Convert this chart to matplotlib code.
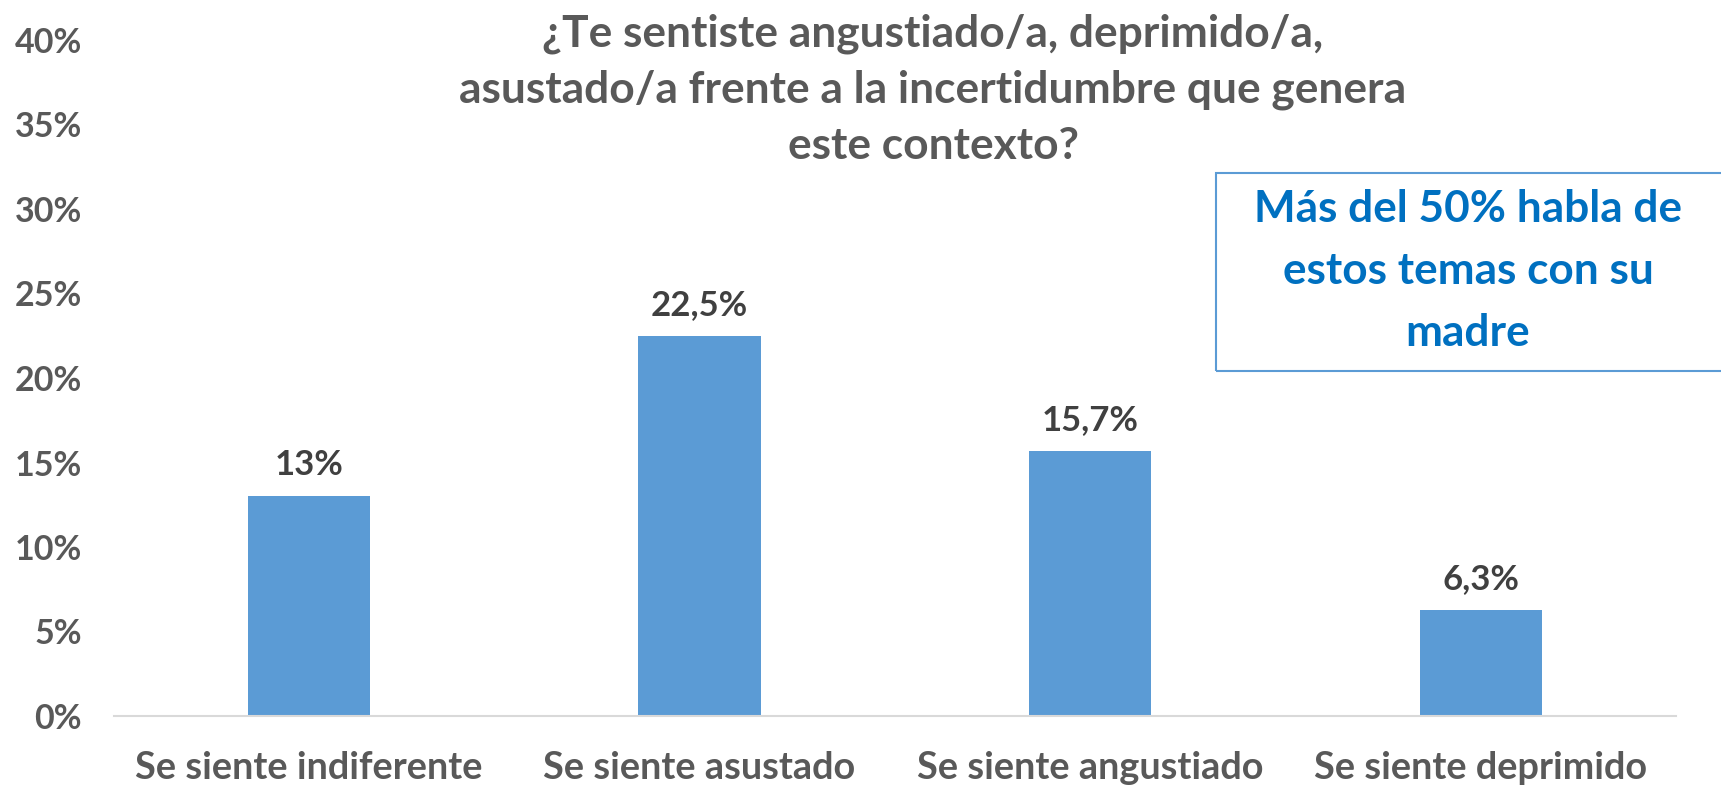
import matplotlib
matplotlib.use("Agg")
import matplotlib.pyplot as plt
from matplotlib.patches import Rectangle
import numpy as np

categories = ["Se siente indiferente", "Se siente asustado", "Se siente angustiado", "Se siente deprimido"]
values = [13.0, 22.5, 15.7, 6.3]
value_labels = ["13%", "22,5%", "15,7%", "6,3%"]
yticks = [0, 5, 10, 15, 20, 25, 30, 35, 40]
ytick_labels = ["0%", "5%", "10%", "15%", "20%", "25%", "30%", "35%", "40%"]
title = "¿Te sentiste angustiado/a, deprimido/a,\nasustado/a frente a la incertidumbre que genera\neste contexto?"
note = "Más del 50% habla de\nestos temas con su\nmadre"

FONT = ["Lato", "DejaVu Sans"]
plt.rcParams["font.family"] = FONT
plt.rcParams["font.weight"] = "bold"

W, H = 1721, 786
fig = plt.figure(figsize=(W / 100, H / 100), dpi=100)
ax = fig.add_axes([113.6 / W, 1 - 716 / H, (1676 - 113.6) / W, (716 - 40) / H])

x = np.arange(len(categories))
bars = ax.bar(x, values, width=0.313, color="#5B9BD5", zorder=2)
ax.set_xlim(-0.5, len(categories) - 0.5)
ax.set_ylim(0, 40)

for rect, lab in zip(bars, value_labels):
    ax.annotate(lab, (rect.get_x() + rect.get_width() / 2, rect.get_height()),
                xytext=(0, 15), textcoords="offset points", ha="center", va="baseline",
                fontsize=25, fontweight="bold", color="#404040")

ax.set_yticks(yticks)
ax.set_yticklabels(ytick_labels)
ax.set_xticks(x)
ax.set_xticklabels(categories)
ax.tick_params(axis="y", length=0, pad=23, labelsize=24.5, labelcolor="#595959")
ax.tick_params(axis="x", length=0, pad=25.5, labelsize=27.3, labelcolor="#595959")
for lab in ax.get_xticklabels() + ax.get_yticklabels():
    lab.set_fontweight("bold")

for s in ["top", "right", "left"]:
    ax.spines[s].set_visible(False)
ax.spines["bottom"].set_color("#D9D9D9")
ax.spines["bottom"].set_linewidth(1.5)

fig.text(933 / W, 1 - 90 / H, title, ha="center", va="center", fontsize=31.9,
         fontweight="bold", color="#595959", linespacing=1.47)

fig.patches.append(Rectangle((1216 / W, 1 - 371 / H), 0.35, (371 - 173) / H,
                             transform=fig.transFigure, fill=False,
                             edgecolor="#5B9BD5", linewidth=1.5))
fig.text(1468 / W, 1 - 271 / H, note, ha="center", va="center", fontsize=31.8,
         fontweight="bold", color="#0070C0", linespacing=1.66)

fig.savefig("out.png", dpi=100)
